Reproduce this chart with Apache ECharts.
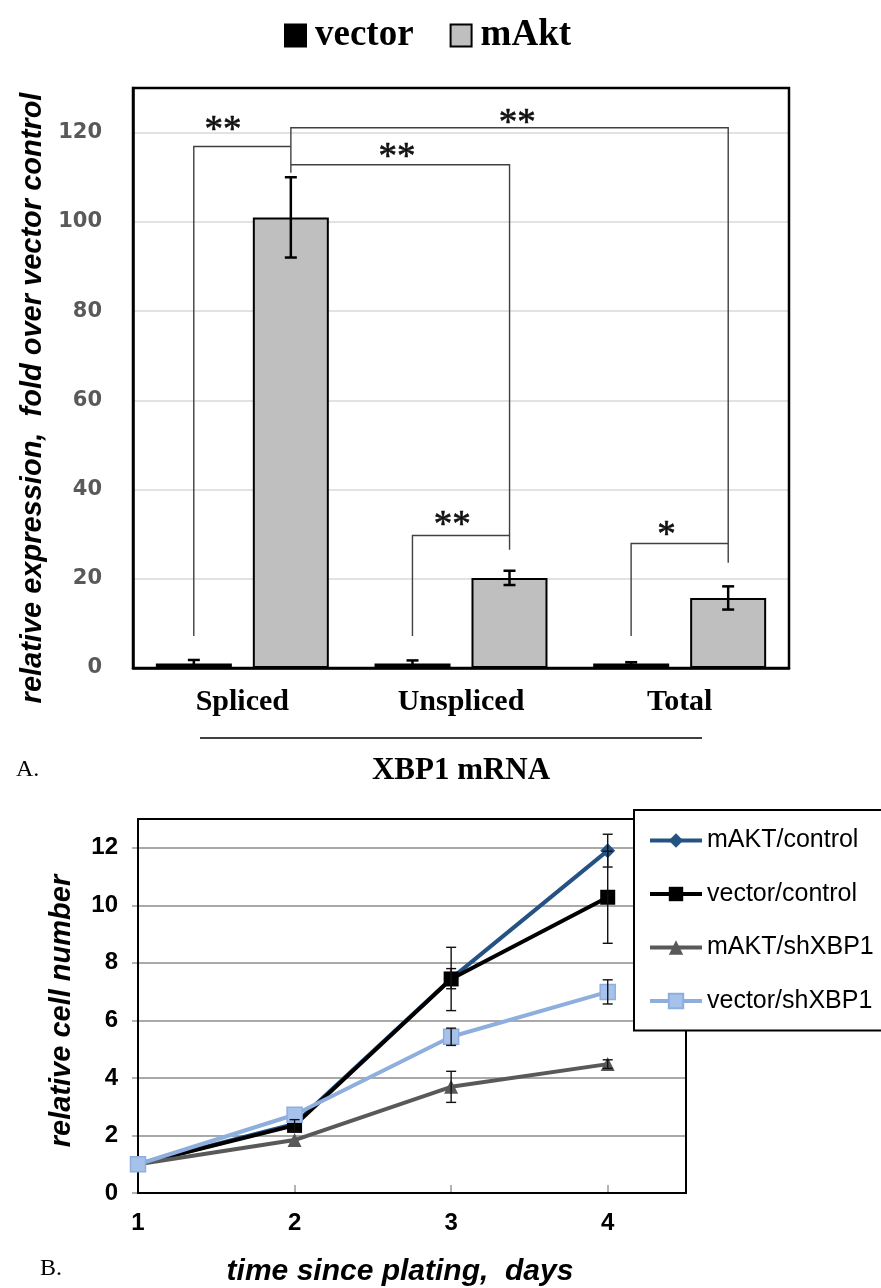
<!DOCTYPE html>
<html><head><meta charset="utf-8">
<script src="https://cdn.jsdelivr.net/npm/echarts/dist/echarts.min.js"></script>
<style>html,body{margin:0;padding:0;background:#fff}#c{width:881px;height:1288px}</style>
</head><body><div id="c"></div>
<script>
// ---------- Panel A data ----------
const categories = ['Spliced', 'Unspliced', 'Total'];
const vectorVals = [1, 1, 1];
const vectorErr = [0.8, 0.7, 0.3];
const mAktVals = [101, 20.2, 15.7];
const mAktErr = [9, 1.6, 2.6];
// significance brackets: polylines in (category position, value) units
const brackets = [
  [[-0.222, 7.2], [-0.222, 116.9], [0.222, 116.9]],
  [[0.222, 111], [0.222, 121.1], [2.222, 121.1], [2.222, 23.6]],
  [[0.222, 112.8], [1.222, 112.8], [1.222, 26.5]],
  [[0.778, 7.2], [0.778, 29.7], [1.222, 29.7]],
  [[1.778, 7.2], [1.778, 27.9], [2.222, 27.9]]
];
const sigPos = [[-0.088, 120.3], [1.257, 121.9], [0.707, 114.3], [0.96, 31.8], [1.94, 29.6]];
const sigText = ['**', '**', '**', '**', '*'];

// ---------- Panel B data ----------
const days = [1, 2, 3, 4];
const lineNames = ['mAKT/control', 'vector/control', 'mAKT/shXBP1', 'vector/shXBP1'];
const mAKTcontrol = [1, 2.4, 7.45, 11.9];
const mAKTcontrolErr = [0, 0, 0.35, 0.57];
const vectorControl = [1, 2.35, 7.44, 10.28];
const vectorControlErr = [0, 0.2, 1.1, 1.6];
const mAKTsh = [1, 1.84, 3.69, 4.48];
const mAKTshErr = [0, 0, 0.54, 0.15];
const vectorSh = [1, 2.72, 5.43, 6.99];
const vectorShErr = [0, 0, 0.3, 0.42];

const chart = echarts.init(document.getElementById('c'));
const SERIF = '"Liberation Serif", "Times New Roman", serif';
const SANS = '"Liberation Sans", Arial, sans-serif';
const WIDE = '"DejaVu Sans", "Liberation Sans", sans-serif';
const OFF = 48.5; // half of bar width + gap

const errA = [];
vectorVals.forEach((v, i) => errA.push([i, v, vectorErr[i], -1]));
mAktVals.forEach((v, i) => errA.push([i, v, mAktErr[i], 1]));

const lineVals = [mAKTcontrol, vectorControl, mAKTsh, vectorSh];
const lineErrs = [mAKTcontrolErr, vectorControlErr, mAKTshErr, vectorShErr];
const errB = [];
lineVals.forEach((vals, s) => vals.forEach((v, i) => { if (lineErrs[s][i] > 0) errB.push([days[i], v, lineErrs[s][i]]); }));

const lineColors = ['#245283', '#000000', '#595959', '#8eaedd'];
const lineSymbols = ['diamond', 'rect', 'triangle', 'rect'];
const symbolSizes = [15, 15, 14, 15];

const option = {
  animation: false,
  backgroundColor: '#fff',
  legend: [
    {
      data: ['vector', 'mAkt'], left: 284, top: 17, orient: 'horizontal', padding: 0,
      icon: 'rect', itemWidth: 21, itemHeight: 22, itemGap: 36,
      textStyle: { fontFamily: SERIF, fontWeight: 'bold', fontSize: 37, color: '#000', padding: [0, 0, 0, 4] }
    },
    {
      data: lineNames, left: 634, top: 810, orient: 'vertical',
      itemWidth: 52, itemHeight: 18, itemGap: 28.5,
      padding: [18, 60, 17, 14],
      lineStyle: { width: 4 },
      borderColor: '#000', borderWidth: 2, backgroundColor: '#fff',
      textStyle: { fontFamily: SANS, fontSize: 25, color: '#000' }
    }
  ],
  grid: [
    { left: 133, top: 88, width: 656, height: 580, show: true, borderColor: '#000', borderWidth: 2.5, z: 3 },
    { left: 138, top: 819, width: 548, height: 377, show: true, borderColor: '#000', borderWidth: 2, z: 3 }
  ],
  xAxis: [
    {
      type: 'category', gridIndex: 0, data: categories,
      axisLine: { lineStyle: { color: '#000', width: 2.5 } },
      axisTick: { show: false },
      axisLabel: { fontFamily: SERIF, fontWeight: 'bold', fontSize: 30, color: '#000', margin: 19 },
      name: 'XBP1 mRNA', nameLocation: 'middle', nameGap: 87,
      nameTextStyle: { fontFamily: SERIF, fontWeight: 'bold', fontSize: 31, color: '#000' }
    },
    { type: 'value', gridIndex: 0, min: -0.5, max: 2.5, show: false },
    {
      type: 'value', gridIndex: 1, min: 1, max: 4.5, interval: 1,
      axisLine: { lineStyle: { color: '#000', width: 2 } },
      axisTick: { show: true, inside: true, length: 8, lineStyle: { color: '#999', width: 1.5 } },
      axisLabel: { fontFamily: SANS, fontWeight: 'bold', fontSize: 24, color: '#000', margin: 18, showMaxLabel: false,
        formatter: v => (Number.isInteger(v) ? String(v) : '') },
      splitLine: { show: false },
      name: 'time since plating,  days', nameLocation: 'middle', nameGap: 64,
      nameTextStyle: { fontFamily: SANS, fontWeight: 'bold', fontStyle: 'italic', fontSize: 30, color: '#000', padding: [0, 24, 0, 0] }
    }
  ],
  yAxis: [
    {
      type: 'value', gridIndex: 0, min: 0, max: 130, interval: 20,
      axisLine: { show: true, onZero: false, lineStyle: { color: '#000', width: 2.5 } },
      axisTick: { show: false },
      axisLabel: { fontFamily: WIDE, fontWeight: 'bold', fontSize: 21, color: '#595959', margin: 31, showMaxLabel: false },
      splitLine: { lineStyle: { color: '#d9d9d9', width: 1.5 } },
      name: 'relative expression,  fold over vector control', nameLocation: 'middle', nameGap: 86, nameRotate: 90,
      nameTextStyle: { fontFamily: SANS, fontWeight: 'bold', fontStyle: 'italic', fontSize: 29, color: '#000', padding: [0, 40, 0, 0] }
    },
    {
      type: 'value', gridIndex: 1, min: 0, max: 13, interval: 2,
      axisLine: { show: true, onZero: false, lineStyle: { color: '#000', width: 2 } },
      axisTick: { show: true, length: 6, lineStyle: { color: '#999', width: 1.5 } },
      axisLabel: { fontFamily: SANS, fontWeight: 'bold', fontSize: 24, color: '#000', margin: 20, showMaxLabel: false },
      splitLine: { lineStyle: { color: '#8c8c8c', width: 1.5 } },
      name: 'relative cell number', nameLocation: 'middle', nameGap: 62, nameRotate: 90,
      nameTextStyle: { fontFamily: SANS, fontWeight: 'bold', fontStyle: 'italic', fontSize: 29, color: '#000', padding: [0, 10, 0, 0] }
    }
  ],
  series: [
    { name: 'vector', type: 'bar', xAxisIndex: 0, yAxisIndex: 0, data: vectorVals, barWidth: 76, barGap: '27.6%',
      itemStyle: { color: '#000', borderColor: '#000', borderWidth: 2 } },
    { name: 'mAkt', type: 'bar', xAxisIndex: 0, yAxisIndex: 0, data: mAktVals, barWidth: 76, barGap: '27.6%',
      itemStyle: { color: '#bfbfbf', borderColor: '#000', borderWidth: 2 } },
    { type: 'custom', xAxisIndex: 0, yAxisIndex: 0, data: errA, z: 5,
      renderItem: (params, api) => {
        const i = api.value(0), v = api.value(1), e = api.value(2), side = api.value(3);
        const x = api.coord([i, v])[0] + side * OFF;
        const yt = api.coord([i, v + e])[1], yb = api.coord([i, Math.max(v - e, 0)])[1];
        const st = { stroke: '#000', lineWidth: 2.5 };
        return { type: 'group', children: [
          { type: 'line', shape: { x1: x, y1: yt, x2: x, y2: yb }, style: st },
          { type: 'line', shape: { x1: x - 6, y1: yt, x2: x + 6, y2: yt }, style: st },
          { type: 'line', shape: { x1: x - 6, y1: yb, x2: x + 6, y2: yb }, style: st }
        ] };
      } },
    { type: 'custom', xAxisIndex: 1, yAxisIndex: 0, data: brackets.map((b, i) => [i]), z: 4,
      renderItem: (params, api) => ({
        type: 'polyline',
        shape: { points: brackets[params.dataIndex].map(p => api.coord(p)) },
        style: { stroke: '#404040', lineWidth: 1.4, fill: null }
      }) },
    { type: 'custom', xAxisIndex: 1, yAxisIndex: 0, data: sigPos, z: 4,
      renderItem: (params, api) => {
        const c = api.coord([api.value(0), api.value(1)]);
        return { type: 'text', x: c[0], y: c[1],
          style: { text: sigText[params.dataIndex], fill: '#111', font: '37px ' + SERIF, align: 'center', verticalAlign: 'middle',
            stroke: '#111', lineWidth: 0.6 } };
      } },
    ...lineNames.map((n, s) => ({
      name: n, type: 'line', xAxisIndex: 2, yAxisIndex: 1,
      data: days.map((d, i) => [d, lineVals[s][i]]),
      symbol: lineSymbols[s], symbolSize: symbolSizes[s], showAllSymbol: true,
      lineStyle: { color: lineColors[s], width: 4 },
      itemStyle: { color: s === 3 ? '#a7c2ea' : lineColors[s], borderColor: lineColors[s], borderWidth: s === 3 ? 1.5 : 0 },
      z: 3 + s
    })),
    { type: 'custom', xAxisIndex: 2, yAxisIndex: 1, data: errB, z: 10,
      renderItem: (params, api) => {
        const x = api.coord([api.value(0), api.value(1)])[0];
        const yt = api.coord([api.value(0), api.value(1) + api.value(2)])[1];
        const yb = api.coord([api.value(0), api.value(1) - api.value(2)])[1];
        const st = { stroke: '#111', lineWidth: 1.4 };
        return { type: 'group', children: [
          { type: 'line', shape: { x1: x, y1: yt, x2: x, y2: yb }, style: st },
          { type: 'line', shape: { x1: x - 5, y1: yt, x2: x + 5, y2: yt }, style: st },
          { type: 'line', shape: { x1: x - 5, y1: yb, x2: x + 5, y2: yb }, style: st }
        ] };
      } }
  ],
  graphic: [
    { type: 'line', shape: { x1: 200, y1: 738, x2: 702, y2: 738 }, style: { stroke: '#000', lineWidth: 1.5 } },
    { type: 'text', left: 16, top: 758, style: { text: 'A.', font: '24px ' + SERIF, fill: '#000' } },
    { type: 'text', left: 40, top: 1257, style: { text: 'B.', font: '24px ' + SERIF, fill: '#000' } }
  ]
};
chart.setOption(option);
</script>
</body></html>
